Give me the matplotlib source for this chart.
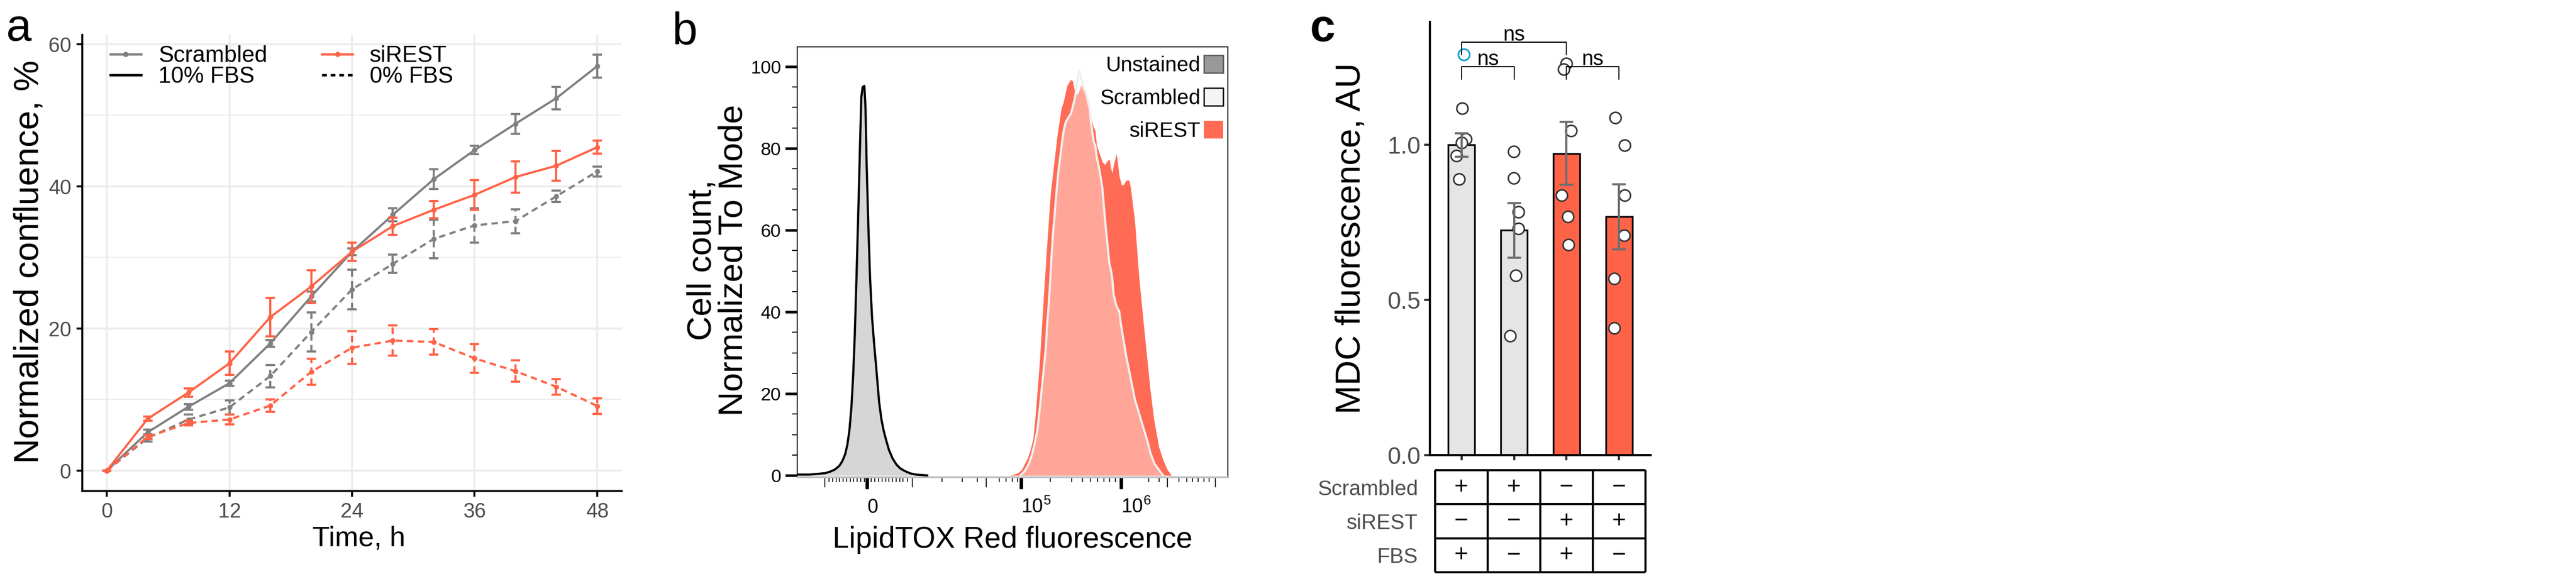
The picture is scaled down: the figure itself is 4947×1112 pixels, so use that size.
"""Three-panel figure: confluence time course, LipidTOX histogram, MDC bar chart."""

import matplotlib

matplotlib.use("Agg")
import matplotlib.pyplot as plt
import numpy as np
from matplotlib.lines import Line2D
from matplotlib.patches import Patch

plt.rcParams["font.family"] = ["Liberation Sans", "DejaVu Sans"]
plt.rcParams["mathtext.fontset"] = "custom"
plt.rcParams["mathtext.rm"] = "Liberation Sans"
plt.rcParams["mathtext.it"] = "Liberation Sans:italic"
plt.rcParams["mathtext.bf"] = "Liberation Sans:bold"

W, H, DPI = 4947, 1112, 300

GREY = "#808080"
RED = "#FF6347"
RED_B = "#FF6B55"
TXT_GREY = "#4D4D4D"

# ---------------------------------------------------------------- panel a data
time_h = [0, 4, 8, 12, 16, 20, 24, 28, 32, 36, 40, 44, 48]
scr_10 = [0, 5.4, 9.0, 12.3, 17.9, 24.5, 30.8, 36.0, 41.0, 45.1, 48.8, 52.4, 56.9]
scr_10_err = [0, 0.4, 0.4, 0.4, 0.5, 0.7, 0.5, 0.9, 1.4, 0.6, 1.4, 1.6, 1.6]
si_10 = [0, 7.3, 11.0, 15.1, 21.6, 25.9, 30.8, 34.4, 36.7, 38.8, 41.3, 42.9, 45.5]
si_10_err = [0, 0.3, 0.6, 1.65, 2.7, 2.3, 1.3, 1.2, 1.2, 2.1, 2.2, 2.1, 0.9]
scr_0 = [0, 4.6, 7.2, 8.9, 13.3, 19.5, 25.5, 29.1, 32.6, 34.5, 35.1, 38.6, 42.1]
scr_0_err = [0, 0.5, 0.7, 1.0, 1.55, 2.75, 2.8, 1.3, 2.7, 2.4, 1.7, 0.8, 0.7]
si_0 = [0, 4.75, 6.7, 7.2, 9.15, 13.9, 17.3, 18.3, 18.1, 15.8, 14.0, 11.8, 9.1]
si_0_err = [0, 0.3, 0.3, 0.7, 0.9, 1.85, 2.3, 2.15, 1.8, 2.0, 1.5, 1.1, 1.1]

# ---------------------------------------------------------------- panel b data
# histogram outlines in display channels (0-1024), % of mode
unst_ch = [0, 30, 67, 80.5, 90.5, 100.6, 107.3, 114.1, 119.4, 124.1, 128.8, 132.9,
           136.9, 140.9, 145, 149, 152.4, 155.7, 159.7, 162.4, 165.1, 169.2, 173.2,
           177.9, 182.6, 188, 194.7, 200.1, 205.4, 211.5, 218.2, 227, 236.3, 245.1,
           255.2, 268.6, 282, 309]
unst_pct = [0.2, 0.2, 0.55, 1.0, 1.5, 2.4, 3.5, 5.2, 7.6, 11.0, 16.6, 24.2,
            34.5, 48.3, 63.5, 79.4, 92.5, 95.0, 95.3, 89.8, 76.0, 60.8, 48.3,
            38.7, 32.5, 26.2, 18.0, 13.8, 11.0, 8.6, 6.2, 4.1, 2.6, 1.7,
            1.1, 0.5, 0.2, 0.0]

sirest_ch = [507, 524, 534, 540.7, 547.4, 554.2, 560.9, 565.6, 576.3, 584.4, 593.1,
             602.5, 618, 628, 632.8, 641.5, 650.2, 655, 661.7, 668.4, 675.1, 679.8,
             685.2, 691.9, 698.6, 704, 708.7, 712, 718.8, 725.5, 732.2, 737.6, 742.3,
             745.6, 749, 752.4, 759.1, 762.5, 765.8, 771.2, 775.9, 782.6, 789.3,
             792.7, 802.7, 812.8, 826, 839.7, 848, 860, 870, 880, 890]
sirest_pct = [0, 0.55, 1.4, 2.8, 4.1, 6.2, 9.0, 13.8, 27.6, 41.4, 55.2,
              69.1, 82.9, 89.8, 91.2, 95.3, 96.8, 96.5, 93.0, 93.5, 95.5, 94.6,
              93.2, 91.5, 87.7, 85.3, 84.3, 80.8, 78.7, 76.7, 76.0, 77.0, 77.3,
              75.3, 73.9, 76.0, 78.7, 76.0, 73.2, 71.1, 71.1, 72.2, 72.2,
              70.4, 62.2, 48.3, 34.5, 20.7, 13.8, 6.9, 3.8, 1.4, 0]

scr_ch = [530.6, 540.7, 550.8, 557.5, 564.2, 571, 576.3, 581, 586.4, 591.1, 594.5,
          597.8, 601.2, 604.5, 607.9, 611.3, 614.6, 618, 621.3, 624.7, 628.1, 631.4,
          634.8, 638.1, 641.5, 648.2, 651.6, 655, 658.3, 661.7, 665, 668.4, 671.7,
          675.1, 678.5, 681.8, 685.2, 688.5, 691.9, 695.3, 698.6, 702, 705.3, 708.7,
          712, 718.8, 725.5, 728.9, 732.2, 735.6, 738.9, 742.3, 745.6, 749, 752.4,
          759.1, 765.8, 769.2, 775.9, 782.6, 789.3, 796.1, 802.8, 812.8, 822.9, 833,
          839.7, 849.8, 859.9, 870]
scr_pct = [0, 1.0, 2.8, 4.8, 7.6, 11.0, 15.9, 20.7, 26.2, 31.1, 37.3,
           41.4, 47.0, 53.2, 58.7, 62.8, 67.0, 71.1, 74.6, 77.3, 80.1, 82.9,
           84.9, 86.3, 87.0, 88.1, 88.7, 90.1, 91.5, 93.2, 96.0, 97.7, 98.9,
           97.0, 96.0, 94.6, 93.9, 92.9, 91.2, 89.8, 86.3, 83.6, 81.5, 80.8,
           78.0, 74.6, 70.4, 66.3, 62.2, 58.7, 55.2, 51.8, 50.4, 48.3, 44.2,
           41.4, 40.1, 37.3, 33.1, 29.0, 25.6, 22.1, 18.6, 15.2, 11.7, 8.3,
           5.5, 2.8, 1.4, 0]

# FlowJo-style biexponential axis, tick channels
x_major_ch = [166, 532, 770]
x_major_lab = ["0", r"$\mathregular{10^5}$", r"$\mathregular{10^6}$"]
x_long_ch = [65.7, 274, 450, 880, 994]
x_short_ch = [75.8, 83.8, 92.6, 100.6, 109.4, 117.4, 126.2, 134.2, 143, 151, 159.7,
              175.9, 184.6, 193.3, 201.4, 210.1, 218.2, 227, 235, 243.7, 251.8, 261.9,
              344.5, 393, 428.5, 480.3, 497, 511.8, 524,
              602, 652, 679, 697, 715, 729, 743, 756,
              836, 860, 907, 926, 940, 954, 967, 980]

# ---------------------------------------------------------------- panel c data
mdc_groups = [
    [1.117, 1.019, 1.006, 0.964, 0.890],
    [0.978, 0.892, 0.784, 0.730, 0.579, 0.384],
    [1.262, 1.243, 1.045, 0.837, 0.768, 0.678],
    [1.087, 0.998, 0.837, 0.708, 0.569, 0.409],
]
mdc_jitter = [
    [0.01, 0.08, 0.0, -0.09, -0.05],
    [-0.01, -0.01, 0.08, 0.08, 0.03, -0.07],
    [0.0, -0.05, 0.08, -0.09, 0.02, 0.03],
    [-0.07, 0.10, 0.10, 0.09, -0.09, -0.09],
]
mdc_outlier = 1.290          # flagged point in group 1 (blue)
mdc_outlier_jitter = 0.05
is_scrambled = [True, True, False, False]
is_sirest = [False, False, True, True]
has_fbs = [True, False, True, False]
comparisons = [(1, 2), (3, 4), (1, 3)]
comp_height = [1.252, 1.252, 1.331]
comp_label = ["ns", "ns", "ns"]


def _px_axes(fig, x0, y0, x1, y1):
    """Add axes from a pixel box measured from the top-left corner."""
    return fig.add_axes([x0 / W, 1 - y1 / H, (x1 - x0) / W, (y1 - y0) / H])


def _centre_labels(ax, xl, yl):
    ax.xaxis.set_label_coords(*xl)
    ax.yaxis.set_label_coords(*yl)
    ax.xaxis.label.set_verticalalignment("center")
    ax.yaxis.label.set_verticalalignment("center")


def _panel_a(fig):
    ax = _px_axes(fig, 158, 67, 1194, 943)
    dashed = (0, (3, 2))
    series = [
        (scr_10, scr_10_err, GREY, "-"),
        (scr_0, scr_0_err, GREY, dashed),
        (si_10, si_10_err, RED, "-"),
        (si_0, si_0_err, RED, dashed),
    ]
    for values, err, colour, ls in series:
        ax.plot(time_h, values, color=colour, lw=1.0, ls=ls, marker="o", ms=2.4,
                mew=0, zorder=3)
        eb = ax.errorbar(time_h, values, yerr=err, fmt="none", ecolor=colour,
                         elinewidth=1.0, capsize=2.2, capthick=1.0, zorder=3)
        if ls != "-":
            eb[2][0].set_linestyle(ls)

    ax.set_xlim(-2.4, 50.4)
    ax.set_ylim(-2.86, 61.3)
    ax.set_xticks([0, 12, 24, 36, 48])
    ax.set_yticks([0, 20, 40, 60])
    ax.set_yticks([10, 30, 50], minor=True)
    ax.grid(which="major", color="#EBEBEB", lw=0.85)
    ax.grid(which="minor", axis="y", color="#EBEBEB", lw=0.4)
    ax.set_axisbelow(True)
    for side in ("top", "right"):
        ax.spines[side].set_visible(False)
    for side in ("left", "bottom"):
        ax.spines[side].set_linewidth(0.9)
    ax.tick_params(which="major", length=2.6, width=0.9, color="black",
                   labelsize=9.5, labelcolor=TXT_GREY, pad=2.5)
    ax.tick_params(which="minor", length=0)

    handles = [
        Line2D([], [], color=GREY, lw=1.1, marker="o", ms=2.4, mew=0),
        Line2D([], [], color="black", lw=1.1),
        Line2D([], [], color=RED, lw=1.1, marker="o", ms=2.4, mew=0),
        Line2D([], [], color="black", lw=1.1, ls=(0, (2, 1.6))),
    ]
    ax.legend(handles, ["Scrambled", "10% FBS", "siREST", "0% FBS"], ncol=2,
              loc="upper left", bbox_to_anchor=(0.052, 0.977), frameon=False,
              fontsize=10.5, handlelength=1.35, handletextpad=0.75,
              columnspacing=2.4, labelspacing=-0.02, borderpad=0, borderaxespad=0)

    ax.set_xlabel("Time, h", fontsize=13)
    ax.set_ylabel("Normalized confluence, %", fontsize=16)
    _centre_labels(ax, (0.5125, -0.105), (-0.0975, 0.503))
    fig.text(11 / W, 1 - 78 / H, "a", fontsize=21, va="baseline", ha="left")


def _panel_b(fig):
    ax = _px_axes(fig, 1531, 90, 2358, 916)
    ax.fill_between(sirest_ch, sirest_pct, color=RED_B, lw=0, zorder=1)
    ax.fill_between(scr_ch, scr_pct, color="white", alpha=0.4, lw=0, zorder=2)
    ax.plot(scr_ch, scr_pct, color="#F0F0F0", lw=1.0, zorder=3)
    ax.fill_between(unst_ch, unst_pct, color="#999999", alpha=0.4, lw=0, zorder=2)
    ax.plot(unst_ch, unst_pct, color="black", lw=1.0, zorder=3)

    ax.set_xlim(0, 1024)
    ax.set_ylim(-0.38, 104.84)
    ax.set_yticks(np.arange(0, 101, 20))
    ax.set_yticks(np.arange(0, 105, 5), minor=True)
    ax.set_xticks(x_major_ch, x_major_lab)
    ax.set_xticks(x_short_ch, minor=True)
    ax.tick_params(axis="x", which="major", length=5.6, width=1.6, labelsize=9,
                   pad=11)
    ax.tick_params(axis="x", which="minor", length=2.4, width=0.4)
    ax.tick_params(axis="y", which="major", length=5.5, width=1.2, labelsize=8.5,
                   pad=2)
    ax.tick_params(axis="y", which="minor", length=2.4, width=0.5)
    for lab in ax.get_xticklabels():
        lab.set_verticalalignment("baseline")
        lab.set_horizontalalignment("left")

    # the taller unlabeled ticks of the FlowJo axis
    long_ax = ax.secondary_xaxis("bottom")
    long_ax.set_xticks(x_long_ch, [""] * len(x_long_ch))
    long_ax.tick_params(length=4.8, width=0.4)
    long_ax.spines["bottom"].set_visible(False)

    for side in ("top", "right", "left"):
        ax.spines[side].set_linewidth(0.5)
    ax.spines["bottom"].set_color("#BDBDBD")
    ax.spines["bottom"].set_linewidth(0.8)

    handles = [
        Patch(facecolor="#999999", edgecolor="#555555", lw=0.6),
        Patch(facecolor="#F4F4F4", edgecolor="black", lw=0.6),
        Patch(facecolor=RED_B, edgecolor="none"),
    ]
    ax.legend(handles, ["Unstained", "Scrambled", "siREST"], loc="upper right",
              bbox_to_anchor=(0.989, 0.981), frameon=False, markerfirst=False,
              fontsize=9.7, handlelength=0.92, handleheight=0.94,
              handletextpad=0.15, labelspacing=0.59, borderpad=0, borderaxespad=0)

    ax.set_xlabel("LipidTOX Red fluorescence", fontsize=13.6)
    ax.set_ylabel("Cell count,\nNormalized To Mode", fontsize=15.7, linespacing=1.0)
    _centre_labels(ax, (0.5006, -0.1465), (-0.185, 0.504))
    fig.text(1290 / W, 1 - 85 / H, "b", fontsize=21, va="baseline", ha="left")


def _panel_c(fig):
    ax = _px_axes(fig, 2746, 42, 3170, 874)
    pos = np.arange(1, len(mdc_groups) + 1)
    means = [np.mean(g) for g in mdc_groups]
    sems = [np.std(g, ddof=1) / np.sqrt(len(g)) for g in mdc_groups]
    fills = ["#E5E5E5" if s else RED for s in is_scrambled]

    ax.bar(pos, means, width=0.5, color=fills, edgecolor="black", linewidth=0.8,
           zorder=2)
    for p, vals, jit in zip(pos, mdc_groups, mdc_jitter):
        ax.scatter(p + np.array(jit), vals, s=27, facecolor="white",
                   edgecolor="#333333", linewidth=0.7, zorder=3)
    ax.scatter([pos[0] + mdc_outlier_jitter], [mdc_outlier], s=27, facecolor="none",
               edgecolor="#1F9ED1", linewidth=0.8, zorder=3)
    ax.errorbar(pos, means, yerr=sems, fmt="none", ecolor="#6E6E6E",
                elinewidth=1.0, capsize=3.1, capthick=1.0, zorder=4)

    for (a, b), h, lab in zip(comparisons, comp_height, comp_label):
        ax.plot([a, a, b, b], [h - 0.041, h, h, h - 0.041], color="black", lw=0.5,
                zorder=5, clip_on=False)
        ax.text((a + b) / 2, h + 0.005, lab, ha="center", va="baseline",
                fontsize=9.6)

    ax.set_xlim(0.4, 4.6)
    ax.set_ylim(0, 1.396)
    ax.set_yticks([0, 0.5, 1.0], ["0.0", "0.5", "1.0"])
    ax.set_xticks(pos, [""] * len(pos))
    ax.tick_params(axis="y", length=2.6, width=1.0, color="#333333", labelsize=11,
                   labelcolor=TXT_GREY, pad=1.7)
    ax.tick_params(axis="x", length=2.4, width=1.0, color="#333333")
    for side in ("top", "right"):
        ax.spines[side].set_visible(False)
    for side in ("left", "bottom"):
        ax.spines[side].set_linewidth(1.0)
    ax.set_ylabel("MDC fluorescence, AU", fontsize=16)
    ax.yaxis.set_label_coords(-0.3585, 0.5)
    ax.yaxis.label.set_verticalalignment("center")
    fig.text(2516 / W, 1 - 79 / H, "c", fontsize=21, fontweight="bold",
             va="baseline", ha="left")

    # design table under the bars
    tab = _px_axes(fig, 2746, 903, 3170, 1099)
    tab.set_xlim(0.4, 4.6)
    tab.set_ylim(3, 0)
    rows = [("Scrambled", is_scrambled), ("siREST", is_sirest), ("FBS", has_fbs)]
    edges = np.r_[pos - 0.5, pos[-1] + 0.5]
    tab.hlines(np.arange(len(rows) + 1), edges[0], edges[-1], color="black",
               lw=1.0, clip_on=False)
    tab.vlines(edges, 0, len(rows), color="black", lw=1.0, clip_on=False)
    for r, (_, flags) in enumerate(rows):
        for p, flag in zip(pos, flags):
            tab.text(p, r + 0.5, "+" if flag else "\u2212", ha="center",
                     va="center", fontsize=11)
    tab.set_yticks(np.arange(len(rows)) + 0.5, [name for name, _ in rows])
    tab.tick_params(axis="y", length=0, pad=5.5, labelsize=9.7,
                    labelcolor=TXT_GREY)
    tab.set_xticks([])
    for s in tab.spines.values():
        s.set_visible(False)


def main() -> None:
    fig = plt.figure(figsize=((W + 0.01) / DPI, (H + 0.01) / DPI), dpi=DPI)
    _panel_a(fig)
    _panel_b(fig)
    _panel_c(fig)
    fig.savefig("out.png", dpi=DPI, facecolor="white")
    plt.close(fig)


if __name__ == "__main__":
    main()
